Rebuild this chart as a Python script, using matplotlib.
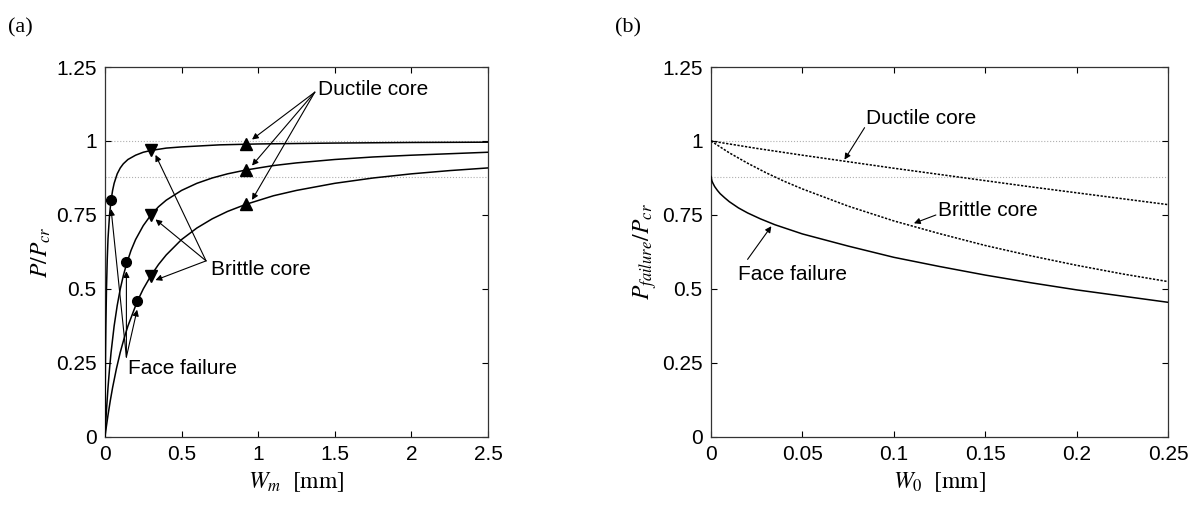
import matplotlib
matplotlib.use("Agg")
import matplotlib.pyplot as plt
import numpy as np

plt.rcParams['font.family'] = ['Liberation Sans', 'DejaVu Sans']
plt.rcParams['mathtext.fontset'] = 'stix'

# ---- panel (a): load vs. mid-span deflection, three imperfection levels
wm_1 = [0, 0.001, 0.002, 0.004, 0.006, 0.01, 0.015, 0.02, 0.03, 0.04, 0.05, 0.06, 0.08,
        0.1, 0.12, 0.15, 0.2, 0.25, 0.3, 0.4, 0.5, 0.75, 1.0, 1.5, 2.0, 2.5]
p_1 = [0, 0.09, 0.17, 0.29, 0.375, 0.5, 0.6, 0.67, 0.75, 0.8, 0.833, 0.857, 0.889,
       0.909, 0.923, 0.9375, 0.952, 0.962, 0.968, 0.976, 0.980, 0.987, 0.990, 0.993,
       0.995, 0.996]

wm_2 = [0, 0.005, 0.01, 0.02, 0.03, 0.04, 0.06, 0.08, 0.1, 0.12, 0.14, 0.17, 0.2, 0.25,
        0.3, 0.35, 0.4, 0.5, 0.6, 0.7, 0.8, 0.92, 1.1, 1.25, 1.5, 1.75, 2.0, 2.25, 2.5]
p_2 = [0, 0.048, 0.091, 0.167, 0.231, 0.286, 0.375, 0.444, 0.5, 0.545, 0.583, 0.63,
       0.667, 0.714, 0.75, 0.778, 0.8, 0.833, 0.857, 0.875, 0.889, 0.902, 0.917, 0.926,
       0.9375, 0.946, 0.952, 0.957, 0.962]

wm_3 = [0, 0.01, 0.02, 0.035, 0.05, 0.075, 0.1, 0.125, 0.15, 0.21, 0.25, 0.3, 0.35,
        0.4, 0.5, 0.6, 0.7, 0.8, 0.92, 1.1, 1.25, 1.5, 1.75, 2.0, 2.25, 2.5]
p_3 = [0, 0.038, 0.074, 0.123, 0.167, 0.231, 0.286, 0.333, 0.375, 0.457, 0.5, 0.545,
       0.583, 0.615, 0.667, 0.706, 0.737, 0.762, 0.786, 0.815, 0.833, 0.857, 0.875,
       0.889, 0.9, 0.909]

face_x = [0.04, 0.14, 0.21]
face_y = [0.80, 0.59, 0.46]
brittle_x = [0.3, 0.3, 0.3]
brittle_y = [0.968, 0.75, 0.545]
ductile_x = [0.92, 0.92, 0.92]
ductile_y = [0.99, 0.902, 0.786]

ref_levels = [1.0, 0.88]

# ---- panel (b): failure load vs. initial imperfection
w0 = [0, 0.025, 0.05, 0.075, 0.1, 0.125, 0.15, 0.175, 0.2, 0.225, 0.25]
ductile_b = [1.0, 0.975, 0.952, 0.93, 0.908, 0.887, 0.866, 0.845, 0.825, 0.805, 0.785]

w0_br = [0, 0.005, 0.01, 0.02, 0.03, 0.04, 0.05, 0.075, 0.1, 0.125, 0.15, 0.175, 0.2,
         0.225, 0.25]
brittle_b = [1.0, 0.98, 0.96, 0.925, 0.893, 0.864, 0.838, 0.78, 0.73, 0.687, 0.647,
             0.612, 0.58, 0.551, 0.525]

w0_face = [0, 0.0005, 0.001, 0.002, 0.0035, 0.005, 0.0075, 0.01, 0.015, 0.02, 0.027,
           0.035, 0.05, 0.075, 0.1, 0.125, 0.15, 0.175, 0.2, 0.225, 0.25]
face_b = [0.88, 0.865, 0.858, 0.846, 0.833, 0.822, 0.808, 0.795, 0.774, 0.757, 0.737,
          0.717, 0.686, 0.645, 0.607, 0.576, 0.547, 0.521, 0.497, 0.476, 0.455]

fig = plt.figure(figsize=(11.98, 5.15), dpi=100)
ax1 = fig.add_axes([0.0876, 0.1515, 0.3197, 0.7184])
ax2 = fig.add_axes([0.5935, 0.1515, 0.3815, 0.7184])

arrow = dict(arrowstyle='-|>', color='k', lw=0.8, mutation_scale=9,
             shrinkA=0, shrinkB=0)
txt_size = 15

for ax in (ax1, ax2):
    for lv in ref_levels:
        ax.axhline(lv, color='#b0b0b0', lw=0.8, ls=':', zorder=1)
    ax.set_ylim(0, 1.25)
    ax.set_yticks([0, 0.25, 0.5, 0.75, 1, 1.25])
    ax.set_yticklabels(['0', '0.25', '0.5', '0.75', '1', '1.25'])
    ax.tick_params(direction='in', top=True, right=True, length=4, width=0.8,
                   labelsize=15, pad=6)
    for s in ax.spines.values():
        s.set_linewidth(0.9)
        s.set_color('#333333')

# panel (a)
for x, y in [(wm_1, p_1), (wm_2, p_2), (wm_3, p_3)]:
    ax1.plot(x, y, color='k', lw=1.1, zorder=3)
ax1.plot(face_x, face_y, 'o', color='k', ms=7, zorder=4)
ax1.plot(brittle_x, brittle_y, 'v', color='k', ms=8, zorder=4)
ax1.plot(ductile_x, ductile_y, '^', color='k', ms=8, zorder=4)
ax1.set_xlim(0, 2.5)
ax1.set_xticks([0, 0.5, 1, 1.5, 2, 2.5])
ax1.set_xticklabels(['0', '0.5', '1', '1.5', '2', '2.5'])
ax1.set_xlabel(r'$W_m\ \ \mathrm{[mm]}$', fontsize=17)
ax1.set_ylabel(r'$P/P_{cr}$', fontsize=17, labelpad=2)

ax1.text(1.39, 1.175, 'Ductile core', fontsize=txt_size, va='center')
for x, y in zip(ductile_x, ductile_y):
    ax1.annotate('', xy=(x + 0.04, y + 0.015), xytext=(1.37, 1.165), arrowprops=arrow)
ax1.text(0.69, 0.565, 'Brittle core', fontsize=txt_size, va='center')
for x, y in zip(brittle_x, brittle_y):
    ax1.annotate('', xy=(x + 0.03, y - 0.015), xytext=(0.66, 0.595), arrowprops=arrow)
ax1.text(0.15, 0.23, 'Face failure', fontsize=txt_size, va='center')
for x, y in zip(face_x, face_y):
    ax1.annotate('', xy=(x, y - 0.03), xytext=(0.14, 0.27), arrowprops=arrow)

# panel (b)
ax2.plot(w0, ductile_b, color='k', lw=1.1, ls=(0, (1.5, 1)), zorder=3)
ax2.plot(w0_br, brittle_b, color='k', lw=1.1, ls=(0, (1.5, 1)), zorder=3)
ax2.plot(w0_face, face_b, color='k', lw=1.1, zorder=3)
ax2.set_xlim(0, 0.25)
ax2.set_xticks([0, 0.05, 0.1, 0.15, 0.2, 0.25])
ax2.set_xticklabels(['0', '0.05', '0.1', '0.15', '0.2', '0.25'])
ax2.set_xlabel(r'$W_0\ \ \mathrm{[mm]}$', fontsize=17)
ax2.set_ylabel(r'$P_{failure}/P_{cr}$', fontsize=17, labelpad=2)

ax2.text(0.085, 1.075, 'Ductile core', fontsize=txt_size, va='center')
ax2.annotate('', xy=(0.073, 0.937), xytext=(0.084, 1.045), arrowprops=arrow)
ax2.text(0.124, 0.765, 'Brittle core', fontsize=txt_size, va='center')
ax2.annotate('', xy=(0.111, 0.722), xytext=(0.123, 0.75), arrowprops=arrow)
ax2.text(0.015, 0.55, 'Face failure', fontsize=txt_size, va='center')
ax2.annotate('', xy=(0.033, 0.712), xytext=(0.02, 0.6), arrowprops=arrow)

fig.text(0.007, 0.965, '(a)', fontsize=16, family='Liberation Serif', va='top')
fig.text(0.513, 0.965, '(b)', fontsize=16, family='Liberation Serif', va='top')

fig.savefig('out.png', dpi=100)
